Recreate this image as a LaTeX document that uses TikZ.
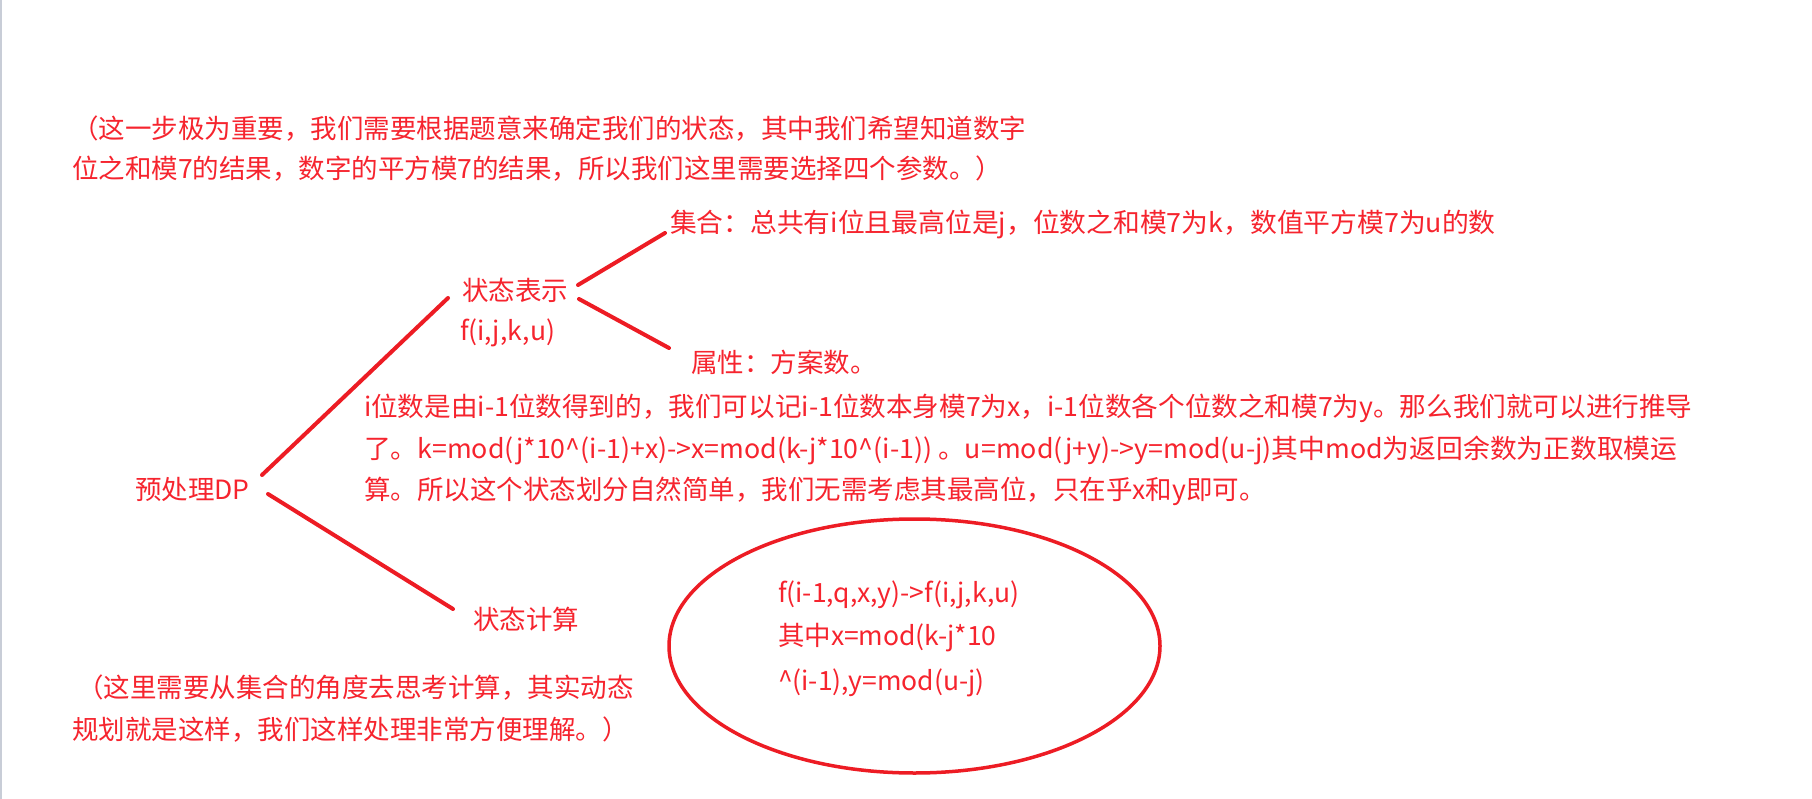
\documentclass[tikz,border=0pt]{standalone}
\usepackage{fontspec}
\setmainfont{Noto Sans CJK SC}
\usetikzlibrary{shapes.geometric}
\definecolor{penred}{RGB}{237,28,36}
\definecolor{txtred}{RGB}{246,36,46}
\definecolor{edgegray}{RGB}{200,205,215}
\begin{document}
\begin{tikzpicture}[x=1pt,y=-1pt,
  txt/.style={anchor=west, inner sep=0pt, outer sep=0pt, text=txtred, font=\fontsize{26.5}{30}\selectfont},
  conn/.style={draw=penred, line width=4pt, line cap=round},
  oval/.style={draw=penred, line width=3.5pt, ellipse, inner sep=0pt, minimum width=491pt, minimum height=254pt}]
\useasboundingbox (0,0) rectangle (1812,799);
\fill[white] (0,0) rectangle (1812,799);
\draw[edgegray, line width=2pt] (1,0) -- (1,799);

% top remark
\node[txt] (t1) at (72,129) {（这一步极为重要，我们需要根据题意来确定我们的状态，其中我们希望知道数字};
\node[txt] (t2) at (72,169) {位之和模7的结果，数字的平方模7的结果，所以我们这里需要选择四个参数。）};

% tree nodes
\node[txt] (dp) at (135,489) {预处理DP};
\node[txt] (state) at (462,290) {状态表示};
\node[txt] (fs) at (460,333) {f(i,j,k,u)};
\node[txt] (set) at (670,224) {\scalebox{1.011}[1]{集合：总共有i位且最高位是j，位数之和模7为k，数值平方模7为u的数}};
\node[txt] (attr) at (691,362) {属性：方案数。};
\node[txt] (calc) at (473,619) {状态计算};

% explanation paragraph
\node[txt] (p1) at (364,408) {\scalebox{1.004}[1]{i位数是由i-1位数得到的，我们可以记i-1位数本身模7为x，i-1位数各个位数之和模7为y。那么我们就可以进行推导}};
\node[txt] (p2) at (364,450) {\scalebox{1.01}[1]{了。k=mod(j*10\textasciicircum(i-1)+x)->x=mod(k-j*10\textasciicircum(i-1)) 。u=mod(j+y)->y=mod(u-j)其中mod为返回余数为正数取模运}};
\node[txt] (p3) at (364,491) {算。所以这个状态划分自然简单，我们无需考虑其最高位，只在乎x和y即可。};

% bottom remark
\node[txt] (b1) at (77,688) {（这里需要从集合的角度去思考计算，其实动态};
\node[txt] (b2) at (72,730) {规划就是这样，我们这样处理非常方便理解。）};

% ellipse with transition
\node[oval] (ell) at (914.5,646) {};
\node[txt] (e1) at (778,595) {f(i-1,q,x,y)->f(i,j,k,u)};
\node[txt] (e2) at (778,638) {其中x=mod(k-j*10};
\node[txt] (e3) at (778,683) {\textasciicircum(i-1),y=mod(u-j)};

% connector end points
\coordinate (dpA) at (262,475);
\coordinate (stA) at (448,298);
\coordinate (stB) at (578,285);
\coordinate (setB) at (665,233);
\coordinate (stC) at (579,299);
\coordinate (attrC) at (669,348);
\coordinate (dpD) at (268,494);
\coordinate (calcD) at (453,609);

\draw[conn] (dpA) -- (stA);
\draw[conn] (stB) -- (setB);
\draw[conn] (stC) -- (attrC);
\draw[conn] (dpD) -- (calcD);
\end{tikzpicture}
\end{document}
